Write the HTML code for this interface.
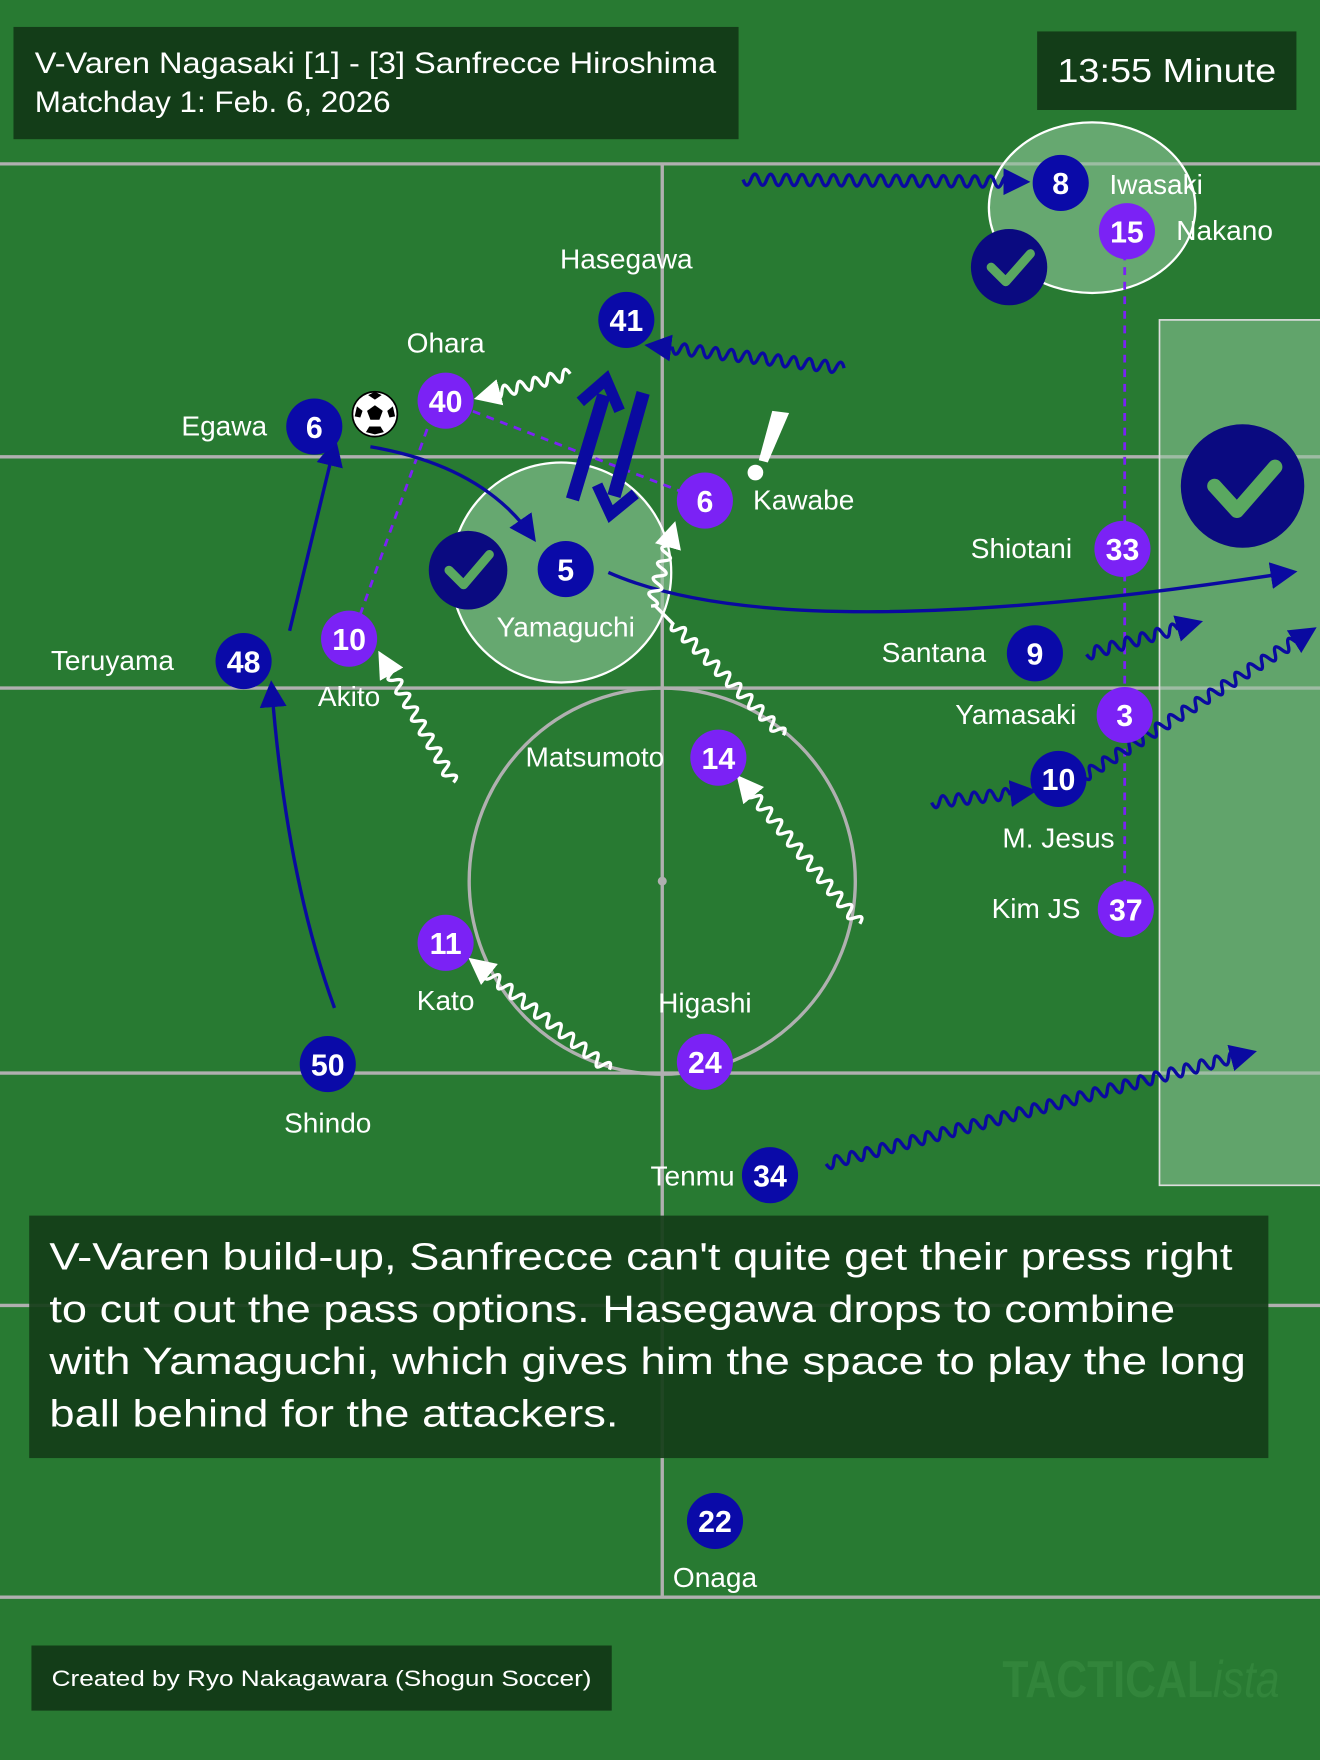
<!DOCTYPE html>
<html><head><meta charset="utf-8"><style>
html,body{margin:0;padding:0;background:#287a32;}
svg{display:block;font-family:"Liberation Sans",sans-serif;}
</style></head><body>
<svg id="s" width="1320" height="1760" viewBox="0 0 1176 1568" xmlns="http://www.w3.org/2000/svg">
<defs>
<marker id="ab" markerWidth="8" markerHeight="8" refX="6" refY="4" orient="auto" markerUnits="strokeWidth"><path d="M0,0 L8,4 L0,8 Z" fill="#0a0aa0"/></marker>
<marker id="aw" markerWidth="8" markerHeight="8" refX="6" refY="4" orient="auto" markerUnits="strokeWidth"><path d="M0,0 L8,4 L0,8 Z" fill="#fff"/></marker>
</defs>
<rect width="1176" height="1568" fill="#287a32"/>
<g stroke="#b0b0b0" stroke-width="3" fill="none">
<line x1="0" y1="146" x2="1176" y2="146"/><line x1="0" y1="407" x2="1176" y2="407"/>
<line x1="0" y1="613" x2="1176" y2="613"/><line x1="0" y1="956" x2="1176" y2="956"/>
<line x1="0" y1="1163" x2="1176" y2="1163"/><line x1="0" y1="1423" x2="1176" y2="1423"/>
<line x1="590" y1="146" x2="590" y2="1423"/>
<circle cx="590" cy="785" r="172"/>
</g>
<circle cx="590" cy="785" r="4" fill="#b0b0b0"/>
<rect x="1033" y="285" width="145" height="771" fill="#8fc79a" fill-opacity="0.55" stroke="#ddd" stroke-width="1.5"/>
<circle cx="500" cy="510" r="98" fill="#8fc79a" fill-opacity="0.6" stroke="#fff" stroke-width="2"/>
<ellipse cx="973" cy="185" rx="92" ry="76" fill="#8fc79a" fill-opacity="0.6" stroke="#fff" stroke-width="2"/>
<g fill="#0a0a80">
<circle cx="417" cy="508" r="35"/><circle cx="899" cy="238" r="34"/><circle cx="1107" cy="433" r="55"/>
</g>
<g fill="none" stroke="#5aa860" stroke-linecap="round" stroke-linejoin="round">
<path d="M400,508 L413,521 L436,494" stroke-width="8"/>
<path d="M883,238 L896,251 L918,226" stroke-width="8"/>
<path d="M1082,433 L1102,455 L1136,416" stroke-width="13"/>
</g>
<g stroke="#7b22f5" stroke-width="2.5" stroke-dasharray="7,6" fill="none">
<line x1="397" y1="357" x2="628" y2="446"/>
<line x1="385" y1="370" x2="320" y2="550"/>
<line x1="1002" y1="225" x2="1002" y2="790"/>
</g>
<g stroke="#0a0aa0" stroke-width="3" fill="none" marker-end="url(#ab)">
<path d="M330,398 Q430,415 474,478"/>
<path d="M542,510 Q700,580 1150,510"/>
<path d="M258,562 L298,397"/>
<path d="M298,898 Q255,780 242,612"/>
</g>
<g stroke="#0a0aa0" stroke-width="12" fill="none" stroke-linecap="butt">
<line x1="510" y1="445" x2="538" y2="352"/><path d="M517,358 L540,338 L552,366" stroke-width="10"/>
<line x1="573" y1="350" x2="547" y2="442"/><path d="M532,432 L544,458 L566,440" stroke-width="10"/>
</g>
<g id="waves"></g>
<path d="M688,366 L703,368 L684,412 L676,410 Z" fill="#fff"/>
<circle cx="673" cy="421" r="7" fill="#fff"/>
<circle cx="334" cy="369" r="20" fill="#fff" stroke="#000" stroke-width="1.5"/>
<g fill="#000"><path d="M334,361 l7,5 -3,8 -8,0 -3,-8 Z"/><path d="M334,349 l6,3 -6,4 -6,-4 Z"/><path d="M350,362 l2,9 -5,1 -2,-6Z"/><path d="M318,362 l-2,9 5,1 2,-6Z"/><path d="M326,385 l8,2 8,-2 -3,-5 -10,0Z"/></g>
<g id="players"></g>
<rect x="12" y="24" width="646" height="100" fill="#133d18"/>
<text x="31" y="65" fill="#fff" font-size="26" textLength="607" lengthAdjust="spacingAndGlyphs">V-Varen Nagasaki [1] - [3] Sanfrecce Hiroshima</text>
<text x="31" y="100" fill="#fff" font-size="26" textLength="317" lengthAdjust="spacingAndGlyphs">Matchday 1: Feb. 6, 2026</text>
<rect x="924" y="28" width="231" height="70" fill="#133d18"/>
<text x="942" y="73" fill="#fff" font-size="30" textLength="195" lengthAdjust="spacingAndGlyphs">13:55 Minute</text>
<rect x="26" y="1083" width="1104" height="216" fill="#133d18" fill-opacity="0.92"/>
<g fill="#fff" font-size="34">
<text x="44" y="1131" textLength="1054" lengthAdjust="spacingAndGlyphs">V-Varen build-up, Sanfrecce can't quite get their press right</text>
<text x="44" y="1178" textLength="1003" lengthAdjust="spacingAndGlyphs">to cut out the pass options. Hasegawa drops to combine</text>
<text x="44" y="1224" textLength="1066" lengthAdjust="spacingAndGlyphs">with Yamaguchi, which gives him the space to play the long</text>
<text x="44" y="1271" textLength="507" lengthAdjust="spacingAndGlyphs">ball behind for the attackers.</text>
</g>
<rect x="28" y="1466" width="517" height="58" fill="#133d18"/>
<text x="46" y="1502" fill="#fff" font-size="20" textLength="481" lengthAdjust="spacingAndGlyphs">Created by Ryo Nakagawara (Shogun Soccer)</text>
<text x="893" y="1512" fill="#32853b" font-size="46" font-weight="bold" textLength="247" lengthAdjust="spacingAndGlyphs">TACTICAL<tspan font-style="italic" font-weight="normal">ista</tspan></text>
</svg>
<script>
var NS="http://www.w3.org/2000/svg";
function wave(x1,y1,x2,y2,col){
 var dx=x2-x1,dy=y2-y1,L=Math.hypot(dx,dy),ux=dx/L,uy=dy/L,nx=-uy,ny=ux;
 var wl=14,amp=5,d="M"+x1+","+y1,n=Math.floor((L-12)/wl);
 for(var i=0;i<n;i++){var t0=i*wl;
  var cx=x1+ux*(t0+wl/4)+nx*amp*2,cy=y1+uy*(t0+wl/4)+ny*amp*2;
  var mx=x1+ux*(t0+wl/2),my=y1+uy*(t0+wl/2);
  var c2x=x1+ux*(t0+3*wl/4)-nx*amp*2,c2y=y1+uy*(t0+3*wl/4)-ny*amp*2;
  var ex=x1+ux*(t0+wl),ey=y1+uy*(t0+wl);
  d+=" Q"+cx.toFixed(1)+","+cy.toFixed(1)+" "+mx.toFixed(1)+","+my.toFixed(1)+" Q"+c2x.toFixed(1)+","+c2y.toFixed(1)+" "+ex.toFixed(1)+","+ey.toFixed(1);}
 d+=" L"+x2+","+y2;
 var p=document.createElementNS(NS,"path");p.setAttribute("d",d);p.setAttribute("fill","none");
 p.setAttribute("stroke",col=="w"?"#fff":"#0a0aa0");p.setAttribute("stroke-width","3");
 p.setAttribute("marker-end",col=="w"?"url(#aw)":"url(#ab)");
 document.getElementById("waves").appendChild(p);
}
var W=[[662,160,912,162,"b"],[752,328,580,308,"b"],[508,333,428,354,"w"],[580,540,600,470,"w"],[698,655,584,540,"n"],
[404,697,340,585,"w"],[766,823,660,695,"w"],[543,953,422,857,"w"],[968,583,1066,555,"b"],[830,715,918,705,"b"],
[965,692,1168,562,"b"],[736,1037,1114,938,"b"]];
W.forEach(function(w){if(w[4]=="n"){wave(w[0],w[1],w[2],w[3],"w");document.getElementById("waves").lastChild.removeAttribute("marker-end");}else wave(w[0],w[1],w[2],w[3],w[4]);});
var P=[[280,380,"6","b","Egawa",-80,8,"r"],[558,285,"41","b","Hasegawa",0,-46,"c"],[504,507,"5","b","Yamaguchi",0,60,"c"],
[217,589,"48","b","Teruyama",-100,8,"r"],[292,948,"50","b","Shindo",0,61,"c"],[945,163,"8","b","Iwasaki",85,10,"c"],
[922,582,"9","b","Santana",-90,8,"c"],[943,694,"10","b","M. Jesus",0,61,"c"],[686,1047,"34","b","Tenmu",-69,9,"c"],
[637,1355,"22","b","Onaga",0,59,"c"],[397,357,"40","p","Ohara",0,-43,"c"],[628,446,"6","p","Kawabe",88,8,"c"],
[311,569,"10","p","Akito",0,60,"c"],[1004,206,"15","p","Nakano",87,8,"c"],[1000,489,"33","p","Shiotani",-90,8,"c"],
[1002,637,"3","p","Yamasaki",-97,8,"c"],[640,675,"14","p","Matsumoto",-110,8,"c"],[397,840,"11","p","Kato",0,60,"c"],
[628,946,"24","p","Higashi",0,-44,"c"],[1003,810,"37","p","Kim JS",-80,8,"c"]];
var g=document.getElementById("players");
P.forEach(function(p){
 var col=p[3]=="b"?"#0a0aa8":"#7b22f5";
 var c=document.createElementNS(NS,"circle");c.setAttribute("cx",p[0]);c.setAttribute("cy",p[1]);c.setAttribute("r","25");c.setAttribute("fill",col);g.appendChild(c);
 var t=document.createElementNS(NS,"text");t.setAttribute("x",p[0]);t.setAttribute("y",p[1]+10);t.setAttribute("fill","#fff");
 t.setAttribute("font-size","27");t.setAttribute("font-weight","bold");t.setAttribute("text-anchor","middle");t.setAttribute("font-family","'Liberation Sans Narrow','Liberation Sans',sans-serif");t.textContent=p[2];g.appendChild(t);
 var l=document.createElementNS(NS,"text");
 if(p[7]=="r"){l.setAttribute("x",p[0]+p[5]+38);l.setAttribute("text-anchor","end");}
 else {l.setAttribute("x",p[0]+p[5]);l.setAttribute("text-anchor","middle");}
 l.setAttribute("y",p[1]+p[6]);l.setAttribute("fill","#fff");l.setAttribute("font-size","25");l.textContent=p[4];g.appendChild(l);
});
</script>
</body></html>
